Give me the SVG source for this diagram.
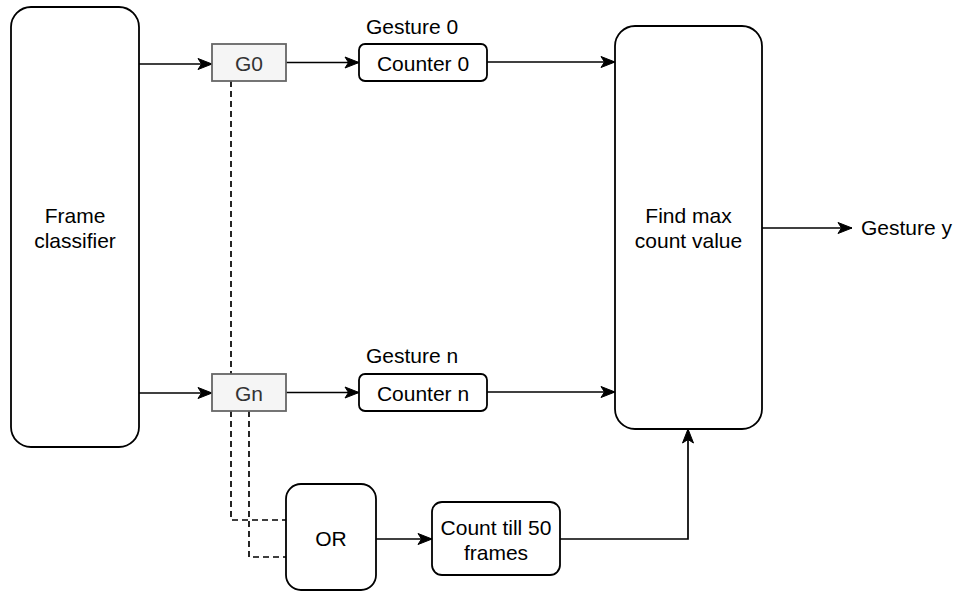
<svg xmlns="http://www.w3.org/2000/svg" width="955" height="592" viewBox="0 0 955 592">
<defs>
<marker id="arr" markerUnits="userSpaceOnUse" markerWidth="16" markerHeight="14" viewBox="0 0 16 14" refX="15" refY="7" orient="auto">
<path d="M1,1.5 L15,7 L1,12.5 L4.5,7 Z" fill="#000" stroke="#000" stroke-width="1"/>
</marker>
</defs>
<style>
text{font-family:"Liberation Sans",Arial,Helvetica,sans-serif;font-size:21px;fill:#000;text-anchor:middle}
.box{fill:#fff;stroke:#000;stroke-width:1.8}
.g{fill:#f5f5f5;stroke:#666;stroke-width:1.8}
.gt{fill:#333}
.c{fill:none;stroke:#000;stroke-width:1.7}
.a{marker-end:url(#arr)}
.d{fill:none;stroke:#000;stroke-width:1.7;stroke-dasharray:6 4}
</style>
<rect width="955" height="592" fill="#fff"/>
<g id="connectors">
<path class="d" d="M231,81 V520 H286"/>
<path class="d" d="M249,411 V557 H286"/>
<path class="c a" d="M139,64 H212"/>
<path class="c a" d="M139,393 H212"/>
<path class="c a" d="M286,62.5 H359"/>
<path class="c a" d="M286,392.5 H359"/>
<path class="c a" d="M487,62 H615"/>
<path class="c a" d="M487,392 H615"/>
<path class="c a" d="M762,228 H852"/>
<path class="c a" d="M376,539 H432"/>
<path class="c a" d="M560,539 H688 V429"/>
</g>
<g id="frame-classifier">
<rect class="box" x="11" y="7" width="128" height="440" rx="20"/>
<text x="75" y="223">Frame</text>
<text x="75" y="248">classifier</text>
</g>
<g id="g0">
<rect class="g" x="212" y="44" width="74" height="37"/>
<text class="gt" x="249" y="71">G0</text>
</g>
<g id="gn">
<rect class="g" x="212" y="374" width="74" height="37"/>
<text class="gt" x="249" y="401">Gn</text>
</g>
<g id="counter0">
<rect class="box" x="359" y="44" width="128" height="37" rx="6"/>
<text x="423" y="71">Counter 0</text>
</g>
<g id="gesture0-label">
<text x="412" y="34">Gesture 0</text>
</g>
<g id="countern">
<rect class="box" x="359" y="374" width="128" height="37" rx="6"/>
<text x="423" y="401">Counter n</text>
</g>
<g id="gesturen-label">
<text x="412" y="363">Gesture n</text>
</g>
<g id="find-max">
<rect class="box" x="615" y="26" width="147" height="403" rx="20"/>
<text x="688.5" y="223">Find max</text>
<text x="688.5" y="248">count value</text>
</g>
<g id="gesture-y">
<text x="861" y="235" style="text-anchor:start">Gesture y</text>
</g>
<g id="or">
<rect class="box" x="286" y="484" width="90" height="106" rx="15"/>
<text x="331" y="546">OR</text>
</g>
<g id="count-till-50">
<rect class="box" x="432" y="502" width="128" height="73" rx="10"/>
<text x="496" y="534.5">Count till 50</text>
<text x="496" y="559.5">frames</text>
</g>
</svg>
